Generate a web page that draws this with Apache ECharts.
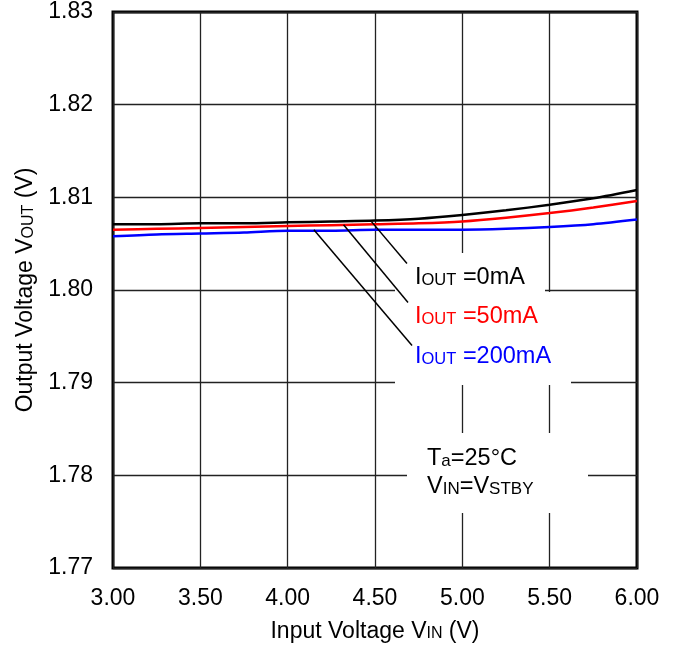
<!DOCTYPE html>
<html><head><meta charset="utf-8">
<script src="https://cdn.jsdelivr.net/npm/echarts@6/dist/echarts.min.js"></script>
<style>html,body{margin:0;padding:0;background:#fff}#c{width:680px;height:648px}</style>
</head><body><div id="c"></div>
<script>
const xValues = [3.0,3.25,3.5,3.75,4.0,4.25,4.5,4.75,5.0,5.25,5.5,5.75,6.0];
const vout0mA   = [1.8071,1.8071,1.8072,1.8072,1.8073,1.8074,1.8075,1.8077,1.8081,1.8086,1.8092,1.8099,1.8108];
const vout50mA  = [1.8065,1.8066,1.8067,1.8068,1.8069,1.8070,1.8071,1.8072,1.8074,1.8078,1.8083,1.8089,1.8096];
const vout200mA = [1.8058,1.8060,1.8061,1.8062,1.8064,1.8064,1.8065,1.8065,1.8065,1.8066,1.8068,1.8071,1.8076];
const seriesNames = ['IOUT=0mA','IOUT=50mA','IOUT=200mA'];
const seriesColors = ['#000000','#ff0000','#0000ff'];
// leader lines: [start on curve, end at label], in data units
const leader0   = [[4.48,1.80738],[4.683,1.80285]];
const leader50  = [[4.32,1.80705],[4.689,1.79865]];
const leader200 = [[4.15,1.80651],[4.712,1.79402]];

const FONT = '"Liberation Sans", Arial, sans-serif';
const chart = echarts.init(document.getElementById('c'), null, {renderer:'canvas'});
function pairs(ys){ return xValues.map((x,i)=>[x,ys[i]]); }
function leader(l){ return {symbol:['none','none'], silent:true, label:{show:false},
  lineStyle:{color:'#000',width:1.5,type:'solid'}, animation:false,
  data:[[{coord:l[0]},{coord:l[1]}]]}; }
function sub(size,color){ return {s:{fontSize:size,fontFamily:FONT,fill:color,color:color,verticalAlign:'middle',padding:[5,0,0,0]}}; }
chart.setOption({
  animation:false,
  grid:{left:113,right:43,top:12,bottom:79,show:true,borderColor:'#000',borderWidth:3,backgroundColor:'transparent'},
  xAxis:{type:'value',min:3,max:6,interval:0.5,
    name:'Input Voltage V{s|IN} (V)',nameLocation:'middle',nameGap:52,
    nameTextStyle:{fontSize:23,fontFamily:FONT,color:'#000',rich:sub(16,'#000')},
    axisLine:{show:false},axisTick:{show:false},
    axisLabel:{fontSize:23,fontFamily:FONT,color:'#000',margin:19,formatter:v=>v.toFixed(2)},
    splitLine:{show:true,lineStyle:{color:'#222',width:1.3}}},
  yAxis:{type:'value',min:1.77,max:1.83,interval:0.01,
    name:'Output Voltage V{s|OUT} (V)',nameLocation:'middle',nameGap:75,
    nameTextStyle:{fontSize:23,fontFamily:FONT,color:'#000',rich:sub(16,'#000')},
    axisLine:{show:false},axisTick:{show:false},
    axisLabel:{fontSize:23,fontFamily:FONT,color:'#000',margin:20,formatter:v=>v.toFixed(2)},
    splitLine:{show:true,lineStyle:{color:'#222',width:1.3}}},
  series:[
    {name:seriesNames[0],type:'line',data:pairs(vout0mA),smooth:0.3,showSymbol:false,z:4,
      lineStyle:{color:seriesColors[0],width:2.5},markLine:leader(leader0)},
    {name:seriesNames[1],type:'line',data:pairs(vout50mA),smooth:0.3,showSymbol:false,z:3,
      lineStyle:{color:seriesColors[1],width:2.5},markLine:leader(leader50)},
    {name:seriesNames[2],type:'line',data:pairs(vout200mA),smooth:0.3,showSymbol:false,z:2,
      lineStyle:{color:seriesColors[2],width:2.5},markLine:leader(leader200)}
  ],
  graphic:[
    {type:'rect',z:1,shape:{x:395,y:253,width:150,height:45},style:{fill:'#fff'}},
    {type:'rect',z:1,shape:{x:395,y:292,width:165,height:50},style:{fill:'#fff'}},
    {type:'rect',z:1,shape:{x:395,y:335,width:176,height:50},style:{fill:'#fff'}},
    {type:'rect',z:1,shape:{x:407,y:433,width:181,height:80},style:{fill:'#fff'}},
    {type:'text',z:10,style:{x:415,y:278,text:'I{s|OUT} =0mA',fill:'#000',font:'23.5px '+FONT,verticalAlign:'middle',rich:sub(16.5,'#000')}},
    {type:'text',z:10,style:{x:415,y:317,text:'I{s|OUT} =50mA',fill:'#ff0000',font:'23.5px '+FONT,verticalAlign:'middle',rich:sub(16.5,'#ff0000')}},
    {type:'text',z:10,style:{x:415,y:357,text:'I{s|OUT} =200mA',fill:'#0000ff',font:'23.5px '+FONT,verticalAlign:'middle',rich:sub(16.5,'#0000ff')}},
    {type:'text',z:10,style:{x:427,y:459,text:'T{s|a}=25°C',fill:'#000',font:'23.5px '+FONT,verticalAlign:'middle',rich:sub(17,'#000')}},
    {type:'text',z:10,style:{x:427,y:487,text:'V{s|IN}=V{s|STBY}',fill:'#000',font:'23.5px '+FONT,verticalAlign:'middle',rich:sub(17,'#000')}}
  ]
});
</script></body></html>
